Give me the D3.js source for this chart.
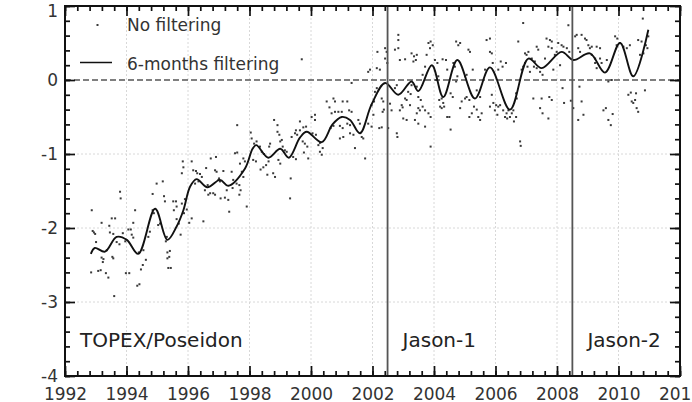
<!DOCTYPE html>
<html>
<head>
<meta charset="utf-8">
<script src="https://cdn.jsdelivr.net/npm/d3@7"></script>
<style>
  body { margin: 0; background: #fff; }
  svg { display: block; font-family: "DejaVu Sans", sans-serif; }
</style>
</head>
<body>
<div id="container"></div>
<script>
/* CONSTANTS AND GLOBALS */
const width = 692,
      height = 402,
      margin = { top: 6, right: 12, bottom: 26, left: 65 };

/* DATA */
// raw (unfiltered) mean sea level anomalies, [year, value]
const rawPoints = [
  [1992.87,-1.76],[1992.90,-2.04],[1992.94,-2.06],[1992.98,-2.08],[1993.01,-2.19],[1992.85,-2.60],[1993.08,-2.58],[1993.16,-2.57],
  [1993.19,-2.40],[1993.25,-2.42],[1993.23,-2.46],[1993.33,-2.61],[1993.41,-2.67],[1993.19,-1.93],[1993.44,-1.97],[1993.52,-1.87],
  [1993.63,-1.87],[1993.46,-2.06],[1993.57,-2.08],[1993.54,-2.39],[1993.57,-2.41],[1993.60,-2.92],[1993.68,-2.19],[1993.77,-2.22],
  [1993.79,-1.51],[1993.81,-1.60],[1993.88,-2.07],[1993.98,-2.61],[1994.09,-2.61],[1994.06,-2.02],[1994.14,-2.02],[1994.22,-1.93],
  [1994.28,-1.76],[1994.17,-2.09],[1994.22,-2.13],[1994.35,-2.78],[1994.42,-2.76],[1994.47,-2.56],[1994.53,-2.50],[1994.63,-2.43],
  [1994.55,-2.30],[1994.71,-2.12],[1994.76,-2.05],[1994.85,-1.54],[1994.98,-1.40],[1995.18,-1.37],[1995.03,-1.96],[1995.09,-1.94],
  [1995.22,-1.57],[1995.25,-1.64],[1995.33,-2.33],[1995.41,-2.31],[1995.33,-2.41],[1995.39,-2.39],[1995.36,-2.54],[1995.44,-2.54],
  [1995.52,-1.64],[1995.61,-1.64],[1995.54,-1.76],[1995.63,-1.71],[1995.63,-1.88],[1995.70,-1.94],[1995.76,-2.09],[1995.80,-1.67],
  [1995.90,-1.61],[1995.87,-1.80],[1995.96,-1.75],[1996.04,-1.93],[1995.80,-1.26],[1995.85,-1.18],[1995.83,-1.10],
  [1994.85,-1.76],[1994.89,-1.80],[1995.28,-2.18],[1995.31,-2.12],[1993.36,-2.30],[1993.96,-2.18],[1994.40,-2.33],
  [1996.12,-1.10],[1996.17,-1.22],[1996.26,-1.23],[1996.30,-1.26],[1996.39,-1.27],[1996.45,-1.31],[1996.23,-1.40],[1996.34,-1.37],
  [1996.12,-1.87],[1996.50,-1.91],[1996.59,-1.19],[1996.55,-1.49],[1996.66,-1.55],[1996.72,-1.53],[1996.74,-1.06],[1996.91,-1.04],
  [1996.88,-1.22],[1996.93,-1.24],[1996.99,-1.35],[1997.04,-1.37],[1996.82,-1.53],[1996.88,-1.55],[1997.06,-1.60],[1997.20,-1.59],
  [1997.15,-1.23],[1997.26,-1.49],[1997.34,-1.78],[1997.31,-1.62],[1997.42,-1.24],[1997.47,-1.35],[1997.45,-1.46],[1997.53,-0.99],
  [1997.60,-0.98],[1997.58,-1.40],[1997.67,-1.42],[1997.60,-0.61],[1997.69,-1.13],[1997.75,-1.24],[1997.80,-1.31],[1997.67,-1.55],
  [1997.71,-1.49],[1997.80,-1.06],[1997.85,-1.10],[1997.91,-1.71],[1998.04,-0.71],[1998.07,-0.79],[1998.15,-0.86],[1998.23,-0.83],
  [1998.12,-1.08],[1998.21,-1.10],[1998.34,-0.90],[1998.40,-0.97],[1998.47,-1.00],[1998.36,-1.21],[1998.45,-1.18],[1998.54,-1.15],
  [1998.62,-1.10],[1998.67,-0.86],[1998.64,-0.90],[1998.58,-1.28],[1998.77,-1.26],[1998.83,-1.31],[1998.80,-0.54],[1998.91,-0.61],
  [1998.91,-0.70],[1998.97,-0.74],[1999.00,-0.83],[1999.05,-0.81],[1998.94,-1.08],[1999.00,-1.13],[1999.08,-0.90],[1999.15,-0.95],
  [1999.21,-0.97],[1999.32,-1.60],[1999.34,-1.33],[1999.42,-1.04],[1999.51,-1.07],[1999.37,-0.77],[1999.48,-0.72],[1999.51,-0.68],
  [1999.55,-0.74],[1999.64,-0.56],[1996.64,-1.42],[1997.01,-1.33],
  [1999.70,0.28],[1999.64,-0.68],[1999.75,-0.64],[1999.84,-0.63],[1999.73,-0.83],[1999.80,-0.86],[1999.88,-0.90],[1999.77,-0.98],
  [1999.91,-1.06],[2000.02,-0.50],[2000.13,-0.47],[2000.13,-0.54],[2000.05,-0.72],[2000.16,-0.74],[2000.24,-0.88],[2000.29,-0.85],
  [2000.29,-0.97],[2000.35,-1.01],[2000.38,-0.92],[2000.51,-0.29],[2000.60,-0.37],[2000.73,-0.25],[2000.78,-0.29],[2000.67,-0.45],
  [2000.78,-0.43],[2000.64,-0.65],[2000.73,-0.62],[2000.89,-0.43],[2001.00,-0.43],[2001.03,-0.29],[2001.18,-0.29],[2000.94,-0.62],
  [2001.03,-0.65],[2000.94,-0.79],[2001.05,-0.77],[2001.24,-0.41],[2001.32,-0.43],[2001.18,-0.59],[2001.27,-0.61],[2001.27,-0.72],
  [2001.38,-0.74],[2001.32,-0.04],[2001.43,-0.92],[2001.54,-0.54],[2001.59,-0.59],[2001.65,-0.77],[2001.70,-0.79],[2001.76,-1.06],
  [2001.86,-0.59],[2001.97,-0.63],[2001.86,0.11],[2001.92,0.14],[2001.97,-0.34],[2002.05,-0.29],[2002.03,-0.47],[2002.08,-0.16],
  [2002.14,-0.11],[2002.16,0.38],[2002.14,0.16],[2002.24,0.14],[2002.22,-0.65],[2002.30,-0.64],[2002.30,-0.25],[2002.35,-0.29],
  [2002.33,-0.43],[2002.37,-0.40],[2002.41,0.43],[2002.46,0.38],[2002.41,0.29],[2002.48,0.23],[2002.51,-0.65],[2002.57,-0.32],
  [2002.62,-0.41],[2002.73,-0.11],[2002.79,-0.07],[2002.79,-0.72],[2002.81,-0.77],[2002.84,0.61],[2002.84,0.54],[2002.73,0.41],
  [2002.84,0.43],[2002.89,0.27],[2003.06,0.28],[2002.89,-0.41],[2002.95,-0.34],[2002.98,-0.37],[2003.06,-0.25],[2003.11,-0.27],
  [2003.00,-0.52],[2003.11,-0.54],[2003.16,-0.16],[2003.24,-0.19],[2003.22,-0.34],[2003.27,0.36],[2003.35,0.32],[2003.33,0.25],
  [2003.41,0.27],[2003.38,-0.54],[2003.49,-0.38],
  [2003.44,0.34],[2003.27,-0.07],[2003.44,-0.09],[2003.49,-0.23],[2003.57,-0.27],[2003.44,-0.45],[2003.54,-0.41],[2003.49,-0.59],
  [2003.63,-0.36],[2003.71,-0.41],[2003.71,-0.63],[2003.63,0.07],[2003.71,0.18],[2003.82,0.50],[2003.89,0.52],[2003.96,0.47],
  [2003.87,0.43],[2003.76,0.34],[2003.82,-0.45],[2003.89,-0.50],[2003.89,-0.90],[2004.03,0.27],[2004.11,0.23],[2004.07,0.00],
  [2004.14,0.05],[2004.17,-0.27],[2004.25,-0.25],[2004.30,-0.31],[2004.20,-0.36],[2004.25,-0.38],[2004.33,-0.36],[2004.28,0.28],
  [2004.39,0.27],[2004.43,0.14],[2004.43,-0.50],[2004.50,-0.50],[2004.54,-0.67],[2004.54,-0.18],[2004.61,-0.23],[2004.63,0.23],
  [2004.68,0.18],[2004.72,0.52],[2004.79,0.47],[2004.85,0.50],[2004.72,-0.02],[2004.76,0.05],[2004.90,-0.29],[2005.01,-0.25],
  [2004.85,-0.38],[2005.01,0.05],[2005.06,0.07],[2005.12,0.41],[2005.17,0.38],[2005.06,-0.23],[2005.15,-0.27],[2005.15,-0.50],
  [2005.23,-0.45],[2005.26,0.14],[2005.30,-0.36],[2005.39,-0.40],[2005.44,-0.50],[2005.50,-0.54],[2005.39,-0.14],[2005.50,-0.23],
  [2005.55,-0.45],[2005.66,0.14],[2005.71,0.54],[2005.82,0.56],[2005.82,0.38],[2005.88,0.36],[2005.91,0.23],[2005.82,-0.36],
  [2005.93,-0.31],[2005.88,-0.20],[2006.02,-0.34],[2006.09,-0.36],[2006.15,-0.34],[2005.98,-0.41],[2006.06,-0.47],[2006.09,0.14],
  [2006.17,0.25],[2006.23,0.18],[2006.34,0.23],[2006.25,-0.41],[2006.36,-0.45],[2006.42,-0.41],[2006.31,-0.50],[2006.38,-0.52],
  [2006.47,-0.50],[2006.53,-0.45],[2006.58,-0.41],[2006.67,-0.50],[2006.60,-0.56],[2006.67,-0.18],[2006.69,-0.25],[2006.74,0.52],
  [2006.80,-0.83],[2006.82,-0.89],[2006.85,0.14],[2006.90,0.18],[2006.90,0.77],[2006.96,0.36],[2007.01,0.34],[2007.07,0.38],
  [2006.96,0.23],[2007.04,0.18],[2007.12,0.11],
  [2007.18,0.29],[2007.28,0.25],[2007.34,0.45],[2007.39,0.41],[2007.25,0.18],[2007.34,0.16],[2007.45,0.11],[2007.53,0.07],
  [2007.23,-0.25],[2007.50,-0.25],[2007.45,-0.38],[2007.53,-0.45],[2007.72,-0.52],[2007.66,0.56],[2007.77,0.54],[2007.83,0.52],
  [2007.72,0.45],[2007.83,0.43],[2007.61,0.29],[2007.75,-0.23],[2007.83,-0.27],[2007.88,0.14],[2007.93,0.34],[2007.99,0.38],
  [2008.04,0.50],[2008.15,0.47],[2008.21,0.45],[2008.10,0.20],[2008.18,-0.11],[2008.23,-0.31],[2008.37,0.74],[2008.32,0.43],
  [2008.40,0.38],[2008.45,-0.28],[2008.53,-0.38],[2008.59,0.59],[2008.64,0.61],[2008.69,0.43],[2008.75,0.38],[2008.73,-0.09],
  [2008.69,-0.54],[2008.80,-0.29],[2008.80,0.61],[2008.91,0.56],[2008.96,0.54],[2008.86,-0.47],[2009.02,0.47],[2009.07,0.43],
  [2009.13,0.45],[2009.13,0.34],[2009.24,0.29],[2009.24,0.23],[2009.29,0.16],[2009.29,0.45],[2009.40,0.43],[2009.40,0.29],
  [2009.45,0.23],[2009.51,-0.41],[2009.59,-0.38],[2009.67,-0.54],[2009.75,-0.61],[2009.81,-0.46],[2009.67,-0.02],[2009.78,0.00],
  [2009.62,0.27],[2009.89,0.59],[2009.96,0.56],[2009.94,0.47],[2010.05,0.50],[2010.16,0.45],[2010.27,0.43],[2010.37,0.47],
  [2010.32,-0.20],[2010.40,-0.17],[2010.43,-0.29],[2010.48,-0.31],[2010.54,-0.27],[2010.59,-0.38],[2010.64,-0.43],[2010.57,-0.18],
  [2010.64,0.54],[2010.75,0.52],[2010.70,0.34],[2010.81,0.36],[2010.79,0.83],[2010.86,-0.14],[2010.89,0.47],[2010.94,0.43],
  [2010.97,0.59]
];

// 6-months filtered curve, [year, value]
const smoothPoints = [
  [1992.84,-2.35],[1992.97,-2.27],[1993.30,-2.32],[1993.68,-2.12],[1994.01,-2.16],[1994.38,-2.35],[1994.93,-1.74],
  [1995.33,-2.16],[1995.63,-1.98],[1995.85,-1.76],[1996.07,-1.44],[1996.28,-1.34],[1996.63,-1.45],[1997.04,-1.35],
  [1997.31,-1.43],[1997.85,-1.20],[1998.10,-0.93],[1998.22,-0.88],[1998.61,-1.05],[1999.00,-0.93],[1999.28,-1.05],
  [1999.64,-0.78],[1999.86,-0.70],[2000.35,-0.84],[2000.70,-0.60],[2001.00,-0.50],[2001.27,-0.54],[2001.59,-0.72],
  [2001.97,-0.33],[2002.41,-0.04],[2002.84,-0.20],[2003.27,-0.02],[2003.49,-0.15],[2003.93,0.20],[2004.30,-0.23],
  [2004.76,0.27],[2005.33,-0.25],[2005.82,0.17],[2006.47,-0.40],[2007.07,0.29],[2007.50,0.16],[2008.15,0.38],
  [2008.53,0.27],[2009.07,0.36],[2009.56,0.10],[2010.05,0.50],[2010.48,0.05],[2010.97,0.68]
];

const missionNames = ["TOPEX/Poseidon", "Jason-1", "Jason-2"];
const missionStarts = [1992, 2002.49, 2008.5];

const xTicks = [1992, 1994, 1996, 1998, 2000, 2002, 2004, 2006, 2008, 2010, 2012];
const yTicks = [-4, -3, -2, -1, 0, 1];
const legendLabels = ["No filtering", "6-months filtering"];

/* SCALES */
const xScale = d3.scaleLinear()
  .domain([1992, 2012])
  .range([margin.left, width - margin.right]);

const yScale = d3.scaleLinear()
  .domain([-4, 1])
  .range([height - margin.bottom, margin.top]);

const xMinor = d3.range(0, 51).map(i => 1992 + i * 0.4);
const yMinor = d3.range(0, 26).map(i => -4 + i * 0.2);

const plotBottom = height - margin.bottom,
      plotLeft = margin.left,
      plotRight = width - margin.right,
      plotTop = margin.top;

/* SVG */
const svg = d3.select("#container")
  .append("svg")
  .attr("width", width)
  .attr("height", height);

// grid
svg.append("g")
  .selectAll("line")
  .data(xTicks.slice(1, -1))
  .join("line")
  .attr("x1", d => xScale(d)).attr("x2", d => xScale(d))
  .attr("y1", yScale(1)).attr("y2", yScale(-4))
  .attr("stroke", "#d8d8d8")
  .attr("stroke-dasharray", "2,2");

svg.append("g")
  .selectAll("line")
  .data(yTicks.filter(d => d > -4 && d < 0))
  .join("line")
  .attr("x1", xScale(1992)).attr("x2", xScale(2012))
  .attr("y1", d => yScale(d)).attr("y2", d => yScale(d))
  .attr("stroke", "#d8d8d8")
  .attr("stroke-dasharray", "2,2");

// zero line
svg.append("line")
  .attr("x1", xScale(1992)).attr("x2", xScale(2012))
  .attr("y1", yScale(0)).attr("y2", yScale(0))
  .attr("stroke", "#555")
  .attr("stroke-width", 1.6)
  .attr("stroke-dasharray", "6,3");

// raw points
svg.append("g")
  .selectAll("rect")
  .data(rawPoints)
  .join("rect")
  .attr("x", d => xScale(d[0]) - 1)
  .attr("y", d => yScale(d[1]) - 1)
  .attr("width", 2)
  .attr("height", 2)
  .attr("fill", "#3a3a3a");

// filtered line
const line = d3.line()
  .x(d => xScale(d[0]))
  .y(d => yScale(d[1]))
  .curve(d3.curveCatmullRom.alpha(0.5));

svg.append("path")
  .datum(smoothPoints)
  .attr("d", line)
  .attr("fill", "none")
  .attr("stroke", "#111")
  .attr("stroke-width", 1.9);

// mission boundaries
svg.append("g")
  .selectAll("line")
  .data(missionStarts.slice(1))
  .join("line")
  .attr("x1", d => xScale(d)).attr("x2", d => xScale(d))
  .attr("y1", yScale(1)).attr("y2", yScale(-4))
  .attr("stroke", "#555")
  .attr("stroke-width", 1.8);

svg.append("g")
  .selectAll("text")
  .data(missionNames)
  .join("text")
  .attr("x", (d, i) => xScale(missionStarts[i]) + 15)
  .attr("y", yScale(-3.61))
  .attr("font-size", 20)
  .attr("fill", "#222")
  .text(d => d);

/* AXES */
const styleAxis = g => {
  g.select(".domain").remove();
  g.selectAll(".tick line").attr("stroke", "#111").attr("stroke-width", 1.7);
  g.selectAll(".tick text").attr("fill", "#333").attr("font-size", 17)
    .attr("font-family", "DejaVu Sans, sans-serif");
};

// minor ticks on all sides
svg.append("g").attr("transform", `translate(0,${plotBottom})`)
  .call(d3.axisBottom(xScale).tickValues(xMinor).tickSize(-5).tickFormat("")).call(styleAxis);
svg.append("g").attr("transform", `translate(0,${plotTop})`)
  .call(d3.axisTop(xScale).tickValues(xMinor).tickSize(-5).tickFormat("")).call(styleAxis);
svg.append("g").attr("transform", `translate(${plotLeft},0)`)
  .call(d3.axisLeft(yScale).tickValues(yMinor).tickSize(-5).tickFormat("")).call(styleAxis);
svg.append("g").attr("transform", `translate(${plotRight},0)`)
  .call(d3.axisRight(yScale).tickValues(yMinor).tickSize(-5).tickFormat("")).call(styleAxis);

// major ticks
svg.append("g").attr("transform", `translate(0,${plotBottom})`)
  .call(d3.axisBottom(xScale).tickValues(xTicks).tickSize(-10).tickPadding(12).tickFormat(d => String(d)))
  .call(styleAxis);
svg.append("g").attr("transform", `translate(0,${plotTop})`)
  .call(d3.axisTop(xScale).tickValues(xTicks).tickSize(-10).tickFormat("")).call(styleAxis);
const gy = svg.append("g").attr("transform", `translate(${plotLeft},0)`)
  .call(d3.axisLeft(yScale).tickValues(yTicks).tickSize(-10).tickPadding(7).tickFormat(d => String(d)))
  .call(styleAxis);
gy.selectAll(".tick text").filter(d => d === 1).attr("dy", "0.6em");
svg.append("g").attr("transform", `translate(${plotRight},0)`)
  .call(d3.axisRight(yScale).tickValues(yTicks).tickSize(-10).tickFormat("")).call(styleAxis);

// frame
svg.append("rect")
  .attr("x", plotLeft).attr("y", plotTop)
  .attr("width", plotRight - plotLeft).attr("height", plotBottom - plotTop)
  .attr("fill", "none")
  .attr("stroke", "#111")
  .attr("stroke-width", 2);

/* LEGEND */
const legend = svg.append("g").attr("transform", `translate(${plotLeft + 15},0)`);
legend.append("rect")
  .attr("x", 16.5).attr("y", 24)
  .attr("width", 2).attr("height", 2)
  .attr("fill", "#3a3a3a");
legend.append("line")
  .attr("x1", 0).attr("x2", 32)
  .attr("y1", 62.5).attr("y2", 62.5)
  .attr("stroke", "#111")
  .attr("stroke-width", 1.5);
legend.selectAll("text")
  .data(legendLabels)
  .join("text")
  .attr("x", 47)
  .attr("y", (d, i) => 31 + i * 38.5)
  .attr("font-size", 17)
  .attr("fill", "#333")
  .text(d => d);
</script>
</body>
</html>
